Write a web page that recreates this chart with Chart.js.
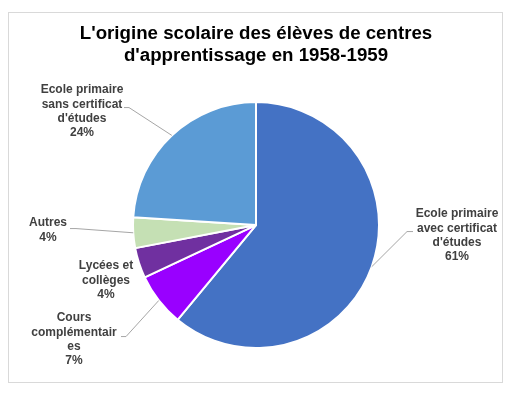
<!DOCTYPE html>
<html><head><meta charset="utf-8">
<script src="https://cdn.jsdelivr.net/npm/chart.js@4/dist/chart.umd.min.js"></script>
<style>html,body{margin:0;padding:0;background:#fff}#wrap{width:528px;height:401px}</style>
</head><body><div id="wrap"><canvas id="c" width="528" height="401"></canvas></div>
<script>
const categories = [
  "Ecole primaire avec certificat d'études",
  "Cours complémentaires",
  "Lycées et collèges",
  "Autres",
  "Ecole primaire sans certificat d'études"
];
const labelLines = [
  ["Ecole primaire", "avec certificat", "d'études"],
  ["Cours", "complémentair", "es"],
  ["Lycées et", "collèges"],
  ["Autres"],
  ["Ecole primaire", "sans certificat", "d'études"]
];
const values = [61, 7, 4, 4, 24];
const colors = ["#4472C4", "#9900FF", "#7030A0", "#C5E0B4", "#5B9BD5"];
const titleLines = ["L'origine scolaire des élèves de centres", "d'apprentissage en 1958-1959"];

// label placement (offsets from the pie centre), leader line start/elbow
const labelLayout = [
  {dx: 201, dy: -11, leader: {sx: 157, sy: 6, ex: 151}},
  {dx: -182, dy: 93, leader: {sx: -135, sy: 111, ex: -130}},
  {dx: -150, dy: 41, leader: null},
  {dx: -208, dy: -2, leader: {sx: -186, sy: 3, ex: -180}},
  {dx: -174, dy: -135, leader: {sx: -132, sy: -118, ex: -127}}
];

const labelPlugin = {
  id: 'pieLabels',
  beforeDraw(chart) {
    const ctx = chart.ctx;
    ctx.save();
    ctx.fillStyle = '#fff';
    ctx.fillRect(0, 0, chart.width, chart.height);
    ctx.strokeStyle = '#D9D9D9';
    ctx.lineWidth = 1;
    ctx.strokeRect(8.5, 12.5, 494, 370);
    ctx.restore();
  },
  afterDatasetsDraw(chart) {
    const ctx = chart.ctx;
    const meta = chart.getDatasetMeta(0);
    const total = values.reduce((a, b) => a + b, 0);
    ctx.save();
    meta.data.forEach((arc, i) => {
      const cx = arc.x, cy = arc.y, r = arc.outerRadius;
      const mid = (arc.startAngle + arc.endAngle) / 2;
      const L = labelLayout[i];
      const lines = labelLines[i].concat([Math.round(values[i] / total * 100) + '%']);
      if (L.leader) {
        ctx.strokeStyle = '#A6A6A6';
        ctx.lineWidth = 1;
        ctx.beginPath();
        ctx.moveTo(cx + L.leader.sx, cy + L.leader.sy + 0.5);
        ctx.lineTo(cx + L.leader.ex, cy + L.leader.sy + 0.5);
        ctx.lineTo(cx + Math.cos(mid) * r, cy + Math.sin(mid) * r);
        ctx.stroke();
      }
      ctx.fillStyle = '#404040';
      ctx.font = 'bold 12px "Liberation Sans", Arial, sans-serif';
      ctx.textAlign = 'center';
      ctx.textBaseline = 'middle';
      lines.forEach((t, k) => {
        ctx.fillText(t, cx + L.dx, cy + L.dy + k * 14.3);
      });
    });
    ctx.restore();
  }
};

new Chart(document.getElementById('c'), {
  type: 'pie',
  data: {
    labels: categories,
    datasets: [{
      data: values,
      backgroundColor: colors,
      borderColor: '#ffffff',
      borderWidth: 2
    }]
  },
  options: {
    responsive: false,
    animation: false,
    radius: 123,
    layout: {padding: {left: 0, right: 16, top: 0, bottom: 53}},
    plugins: {
      legend: {display: false},
      tooltip: {enabled: false},
      title: {
        display: true,
        text: titleLines,
        color: '#000000',
        font: {family: '"Liberation Sans", Arial, sans-serif', size: 18.7, weight: 'bold', lineHeight: 1.18},
        padding: {top: 23, bottom: 35}
      }
    }
  },
  plugins: [labelPlugin]
});
</script></body></html>
